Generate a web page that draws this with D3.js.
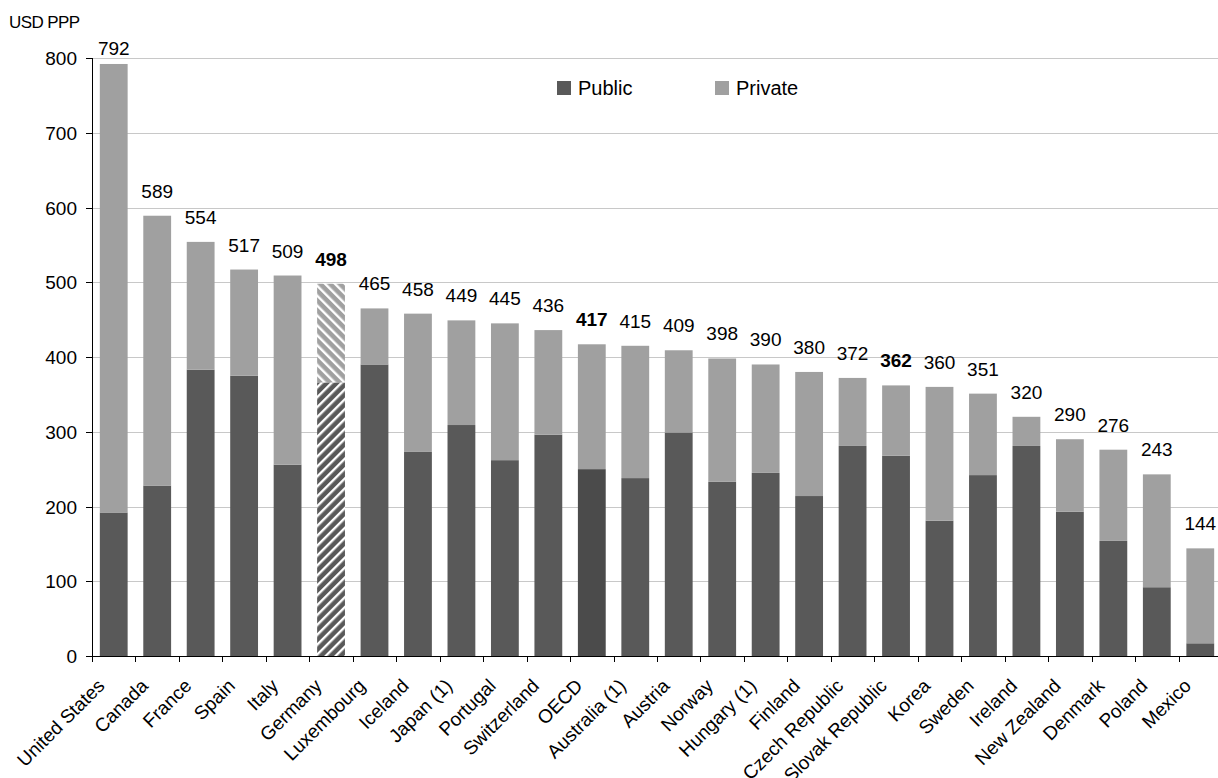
<!DOCTYPE html>
<html><head><meta charset="utf-8">
<script src="https://cdn.jsdelivr.net/npm/d3@7"></script>
<style>
html,body{margin:0;padding:0;background:#fff;}
svg text{font-family:Arial,"Liberation Sans",sans-serif;fill:#000;}
</style></head>
<body>
<svg id="chart" width="1218" height="778"></svg>
<script>
const categories = ["United States","Canada","France","Spain","Italy","Germany","Luxembourg","Iceland","Japan (1)","Portugal","Switzerland","OECD","Australia (1)","Austria","Norway","Hungary (1)","Finland","Czech Republic","Slovak Republic","Korea","Sweden","Ireland","New Zealand","Denmark","Poland","Mexico"];
const totalValues = [792,589,554,517,509,498,465,458,449,445,436,417,415,409,398,390,380,372,362,360,351,320,290,276,243,144];
const publicValues = [192,228,383,375,256,366,390,273,309,262,296,250,238,299,233,245,214,281,268,181,242,281,193,154,92,17];
const boldCategories = ["Germany","OECD","Slovak Republic"];
const hatchedCategories = ["Germany"];
const yTicks = [0,100,200,300,400,500,600,700,800];
const seriesNames = ["Public","Private"];

const privateValues = totalValues.map((t,i)=>t-publicValues[i]);
const rows = categories.map((c,i)=>({cat:c, pub:publicValues[i], priv:privateValues[i], total:totalValues[i]}));

const svg = d3.select("#chart");
const W = 1218;
const x = d3.scaleBand().domain(categories).range([92,1222]).paddingInner(0.36).paddingOuter(0.18);
const y = d3.scaleLinear().domain([0,800]).range([656,58]);

const defs = svg.append("defs");
function hatch(id, color, angle){
  const p = defs.append("pattern").attr("id",id).attr("patternUnits","userSpaceOnUse")
    .attr("width",7).attr("height",7).attr("patternTransform",`rotate(${angle})`);
  p.append("rect").attr("width",7).attr("height",7).attr("fill",color);
  p.append("rect").attr("x",0).attr("y",0).attr("width",2.4).attr("height",7).attr("fill","#fff");
}
hatch("hatchPub","#595959",45);
hatch("hatchPriv","#a0a0a0",-45);

// gridlines
svg.append("g").selectAll("line").data(yTicks.filter(d=>d>0)).join("line")
  .attr("x1",92).attr("x2",W).attr("y1",d=>Math.round(y(d))+0.5).attr("y2",d=>Math.round(y(d))+0.5)
  .attr("stroke","#c8c8c8").attr("stroke-width",1);

// bars
const bw = x.bandwidth();
const g = svg.append("g");
rows.forEach(r=>{
  const hatched = hatchedCategories.includes(r.cat);
  const pubColor = hatched ? "url(#hatchPub)" : (r.cat==="OECD" ? "#4b4b4b" : "#595959");
  const privColor = hatched ? "url(#hatchPriv)" : "#a0a0a0";
  g.append("rect").attr("x",x(r.cat)).attr("width",bw)
    .attr("y",y(r.pub)).attr("height",y(0)-y(r.pub)).attr("fill",pubColor);
  g.append("rect").attr("x",x(r.cat)).attr("width",bw)
    .attr("y",y(r.total)).attr("height",y(r.pub)-y(r.total)).attr("fill",privColor);
});

// value labels
svg.append("g").selectAll("text").data(rows).join("text")
  .attr("x",d=>x(d.cat)+bw/2)
  .attr("y",d=>Math.max(y(d.total)-18,55))
  .attr("text-anchor","middle").attr("font-size",19)
  .attr("font-weight",d=>boldCategories.includes(d.cat)?"bold":"normal")
  .text(d=>d.total);

// y axis
const ya = svg.append("g");
ya.append("line").attr("x1",92.5).attr("x2",92.5).attr("y1",y(800)).attr("y2",y(0)).attr("stroke","#000");
ya.selectAll("line.t").data(yTicks).join("line").attr("class","t")
  .attr("x1",86).attr("x2",92).attr("y1",d=>Math.round(y(d))+0.5).attr("y2",d=>Math.round(y(d))+0.5).attr("stroke","#000");
ya.selectAll("text").data(yTicks).join("text")
  .attr("x",77).attr("y",d=>y(d)+7).attr("text-anchor","end").attr("font-size",19).text(d=>d);

// x axis
const xa = svg.append("g");
xa.append("line").attr("x1",86).attr("x2",W).attr("y1",656.5).attr("y2",656.5).attr("stroke","#000");
const step = x.step();
const bounds = categories.map(c=>x(c) - (step-bw)/2);
xa.selectAll("line.t").data(bounds).join("line").attr("class","t")
  .attr("x1",d=>Math.round(d)+0.5).attr("x2",d=>Math.round(d)+0.5).attr("y1",656).attr("y2",662).attr("stroke","#000");
xa.selectAll("text").data(categories).join("text")
  .attr("transform",d=>`translate(${x(d)+bw/2-8},687) rotate(-45)`)
  .attr("text-anchor","end").attr("font-size",19).text(d=>d);

// axis title
svg.append("text").attr("x",9).attr("y",28).attr("font-size",17).attr("letter-spacing","-0.6").text("USD PPP");

// legend
const leg = svg.append("g");
const legItems = [{name:seriesNames[0],color:"#595959",x:557},{name:seriesNames[1],color:"#a0a0a0",x:715}];
legItems.forEach(l=>{
  leg.append("rect").attr("x",l.x).attr("y",81).attr("width",14).attr("height",14).attr("fill",l.color);
  leg.append("text").attr("x",l.x+21).attr("y",95).attr("font-size",20).text(l.name);
});
</script>
</body></html>
